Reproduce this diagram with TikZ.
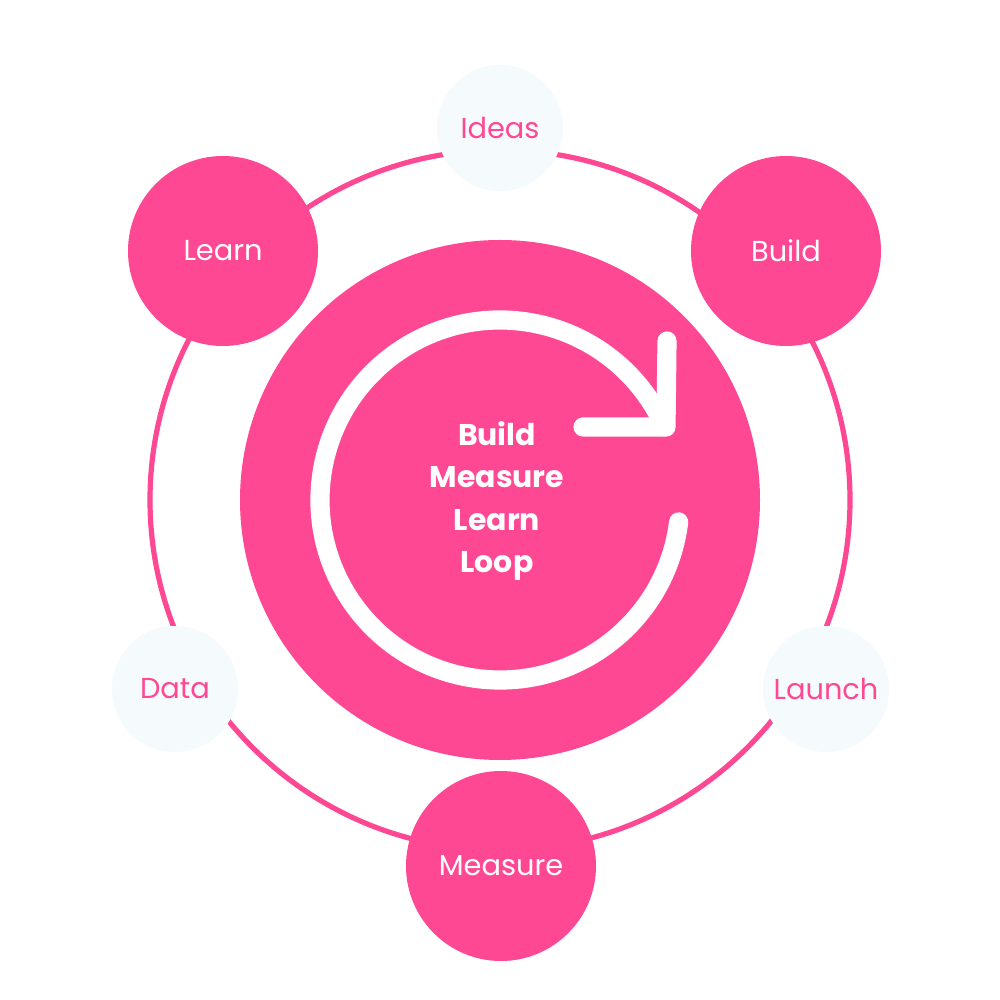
\documentclass[tikz,border=0pt]{standalone}
\usepackage{fontspec}
\usetikzlibrary{calc}
\setmainfont{Poppins}
\definecolor{lpink}{HTML}{FF4893}
\definecolor{pale}{HTML}{F5FAFD}
\tikzset{
  bigc/.style={circle, fill=lpink, minimum size=47.5mm, inner sep=0pt, text=white, font=\fontsize{20.5}{24}\selectfont},
  palec/.style={circle, fill=pale, minimum size=31.5mm, inner sep=0pt, text=lpink, font=\fontsize{20.5}{24}\selectfont},
  ringline/.style={draw=lpink, line width=1.3mm},
  loopline/.style={draw=white, line width=4.8mm, line cap=round, line join=round},
}
\begin{document}
\begin{tikzpicture}[x=0.25mm, y=0.25mm]
\fill[white] (0,0) rectangle (1000,1000);
\useasboundingbox (0,0) rectangle (1000,1000);
\coordinate (c) at (500,500);
% outer ring
\draw[ringline] (c) circle[radius=350];
% central disc
\fill[lpink] (c) circle[radius=260];
% loop arrow
\draw[loopline] ($(c)+(-7:180)$) arc[start angle=-7, end angle=-336, radius=180];
\coordinate (tip) at (666,573);
\coordinate (legA) at (583,573);
\coordinate (legB) at (667,659);
\draw[loopline] (legA) -- (tip) -- (legB);
\node[text=white, align=center, font=\fontsize{21.3}{29.9}\selectfont\bfseries] (title) at (497,499) {Build\\Measure\\Learn\\Loop};
% satellite circles
\node[palec] (ideas) at (500,872) {Ideas};
\node[bigc] (build) at (786,749) {Build};
\node[bigc] (learn) at (223,749) {Learn};
\node[palec] (launch) at (826,311) {Launch};
\node[palec] (data) at (175,311) {Data};
\node[bigc] (measure) at (501,134) {Measure};
\end{tikzpicture}
\end{document}
